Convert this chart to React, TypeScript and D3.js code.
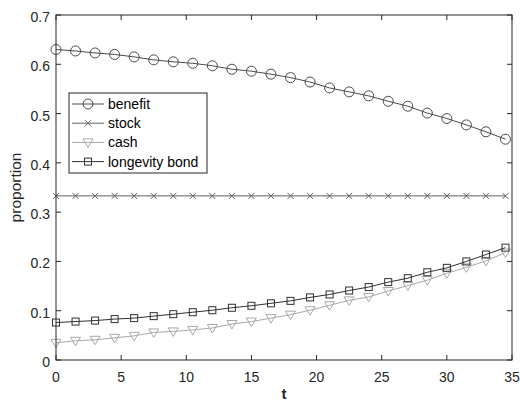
import React from "react";
import * as d3 from "d3";

const tValues = [0, 1.5, 3, 4.5, 6, 7.5, 9, 10.5, 12, 13.5, 15, 16.5, 18, 19.5, 21, 22.5, 24, 25.5, 27, 28.5, 30, 31.5, 33, 34.5];
const benefit = [0.630, 0.627, 0.623, 0.620, 0.615, 0.609, 0.605, 0.602, 0.597, 0.590, 0.586, 0.580, 0.573, 0.564, 0.552, 0.544, 0.536, 0.525, 0.515, 0.501, 0.490, 0.477, 0.463, 0.448];
const stock = [0.333, 0.333, 0.333, 0.333, 0.333, 0.333, 0.333, 0.333, 0.333, 0.333, 0.333, 0.333, 0.333, 0.333, 0.333, 0.333, 0.333, 0.333, 0.333, 0.333, 0.333, 0.333, 0.333, 0.333];
const cash = [0.035, 0.039, 0.041, 0.045, 0.049, 0.056, 0.058, 0.061, 0.065, 0.073, 0.078, 0.085, 0.092, 0.101, 0.111, 0.121, 0.128, 0.140, 0.151, 0.162, 0.176, 0.188, 0.201, 0.218];
const bond = [0.076, 0.078, 0.080, 0.083, 0.085, 0.089, 0.093, 0.097, 0.101, 0.106, 0.110, 0.115, 0.120, 0.127, 0.133, 0.141, 0.148, 0.158, 0.166, 0.178, 0.187, 0.200, 0.214, 0.228];
const xTicks = [0, 5, 10, 15, 20, 25, 30, 35];
const yTicks = [0, 0.1, 0.2, 0.3, 0.4, 0.5, 0.6, 0.7];
const seriesNames = ["benefit", "stock", "cash", "longevity bond"];

type MarkerKind = "circle" | "x" | "tri" | "square";

const Marker = ({ kind, x, y, color }: { kind: MarkerKind; x: number; y: number; color: string }) => {
  if (kind === "circle") return <circle cx={x} cy={y} r={5} fill="none" stroke={color} strokeWidth={1} />;
  if (kind === "square") return <rect x={x - 3.5} y={y - 3.5} width={7} height={7} fill="none" stroke={color} strokeWidth={1} />;
  if (kind === "x")
    return (
      <path d={`M${x - 3},${y - 3}L${x + 3},${y + 3}M${x - 3},${y + 3}L${x + 3},${y - 3}`} stroke={color} strokeWidth={1} />
    );
  return <path d={`M${x - 5},${y - 3.5}L${x + 5},${y - 3.5}L${x},${y + 5}Z`} fill="none" stroke={color} strokeWidth={1} />;
};

export default function App() {
  const W = 520, H = 406;
  const left = 56, right = 512, top = 15, bottom = 360;
  const x = d3.scaleLinear().domain([0, 35]).range([left, right]);
  const y = d3.scaleLinear().domain([0, 0.7]).range([bottom, top]);
  const series: { name: string; data: number[]; color: string; kind: MarkerKind }[] = [
    { name: seriesNames[0], data: benefit, color: "#4a4a4a", kind: "circle" },
    { name: seriesNames[1], data: stock, color: "#606060", kind: "x" },
    { name: seriesNames[2], data: cash, color: "#a8a8a8", kind: "tri" },
    { name: seriesNames[3], data: bond, color: "#303030", kind: "square" },
  ];
  const line = d3.line<number>().x((_, i) => x(tValues[i])).y((d) => y(d));
  const font = "Liberation Sans, Arial, sans-serif";
  const axisColor = "#262626";
  const legX = 69, legY = 93, legW = 138, legH = 80;
  return (
    <svg width={W} height={H} style={{ position: "absolute", left: 0, top: 0, background: "#fff" }} fontFamily={font}>
      <rect x={0} y={0} width={W} height={H} fill="#fff" />
      {series.map((s) => (
        <g key={s.name}>
          <path d={line(s.data) || ""} fill="none" stroke={s.color} strokeWidth={1} />
          {s.data.map((v, i) => (
            <Marker key={i} kind={s.kind} x={x(tValues[i])} y={y(v)} color={s.color} />
          ))}
        </g>
      ))}
      <rect x={left} y={top} width={right - left} height={bottom - top} fill="none" stroke={axisColor} strokeWidth={1} />
      {xTicks.map((t) => (
        <g key={t}>
          <line x1={x(t)} x2={x(t)} y1={bottom} y2={bottom - 5} stroke={axisColor} />
          <line x1={x(t)} x2={x(t)} y1={top} y2={top + 5} stroke={axisColor} />
          <text x={x(t)} y={bottom + 22} textAnchor="middle" fontSize={14} fill={axisColor}>{t}</text>
        </g>
      ))}
      {yTicks.map((t) => (
        <g key={t}>
          <line x1={left} x2={left + 5} y1={y(t)} y2={y(t)} stroke={axisColor} />
          <line x1={right} x2={right - 5} y1={y(t)} y2={y(t)} stroke={axisColor} />
          <text x={left - 6} y={y(t) + 7} textAnchor="end" fontSize={14} fill={axisColor}>{t === 0 ? "0" : t.toFixed(1)}</text>
        </g>
      ))}
      <text x={(left + right) / 2} y={399} textAnchor="middle" fontSize={15} fontWeight="bold" fill={axisColor}>t</text>
      <text transform={`translate(21,${(top + bottom) / 2}) rotate(-90)`} textAnchor="middle" fontSize={15.5} fill={axisColor}>proportion</text>
      <rect x={legX} y={legY} width={legW} height={legH} fill="#fff" stroke={axisColor} strokeWidth={1} />
      {series.map((s, i) => {
        const cy = 104 + i * 19.2;
        return (
          <g key={s.name}>
            <line x1={legX + 3} x2={legX + 35} y1={cy} y2={cy} stroke={s.color} />
            <Marker kind={s.kind} x={legX + 19} y={cy} color={s.color} />
            <text x={legX + 39} y={cy + 5} fontSize={14} fill="#000">{s.name}</text>
          </g>
        );
      })}
    </svg>
  );
}
